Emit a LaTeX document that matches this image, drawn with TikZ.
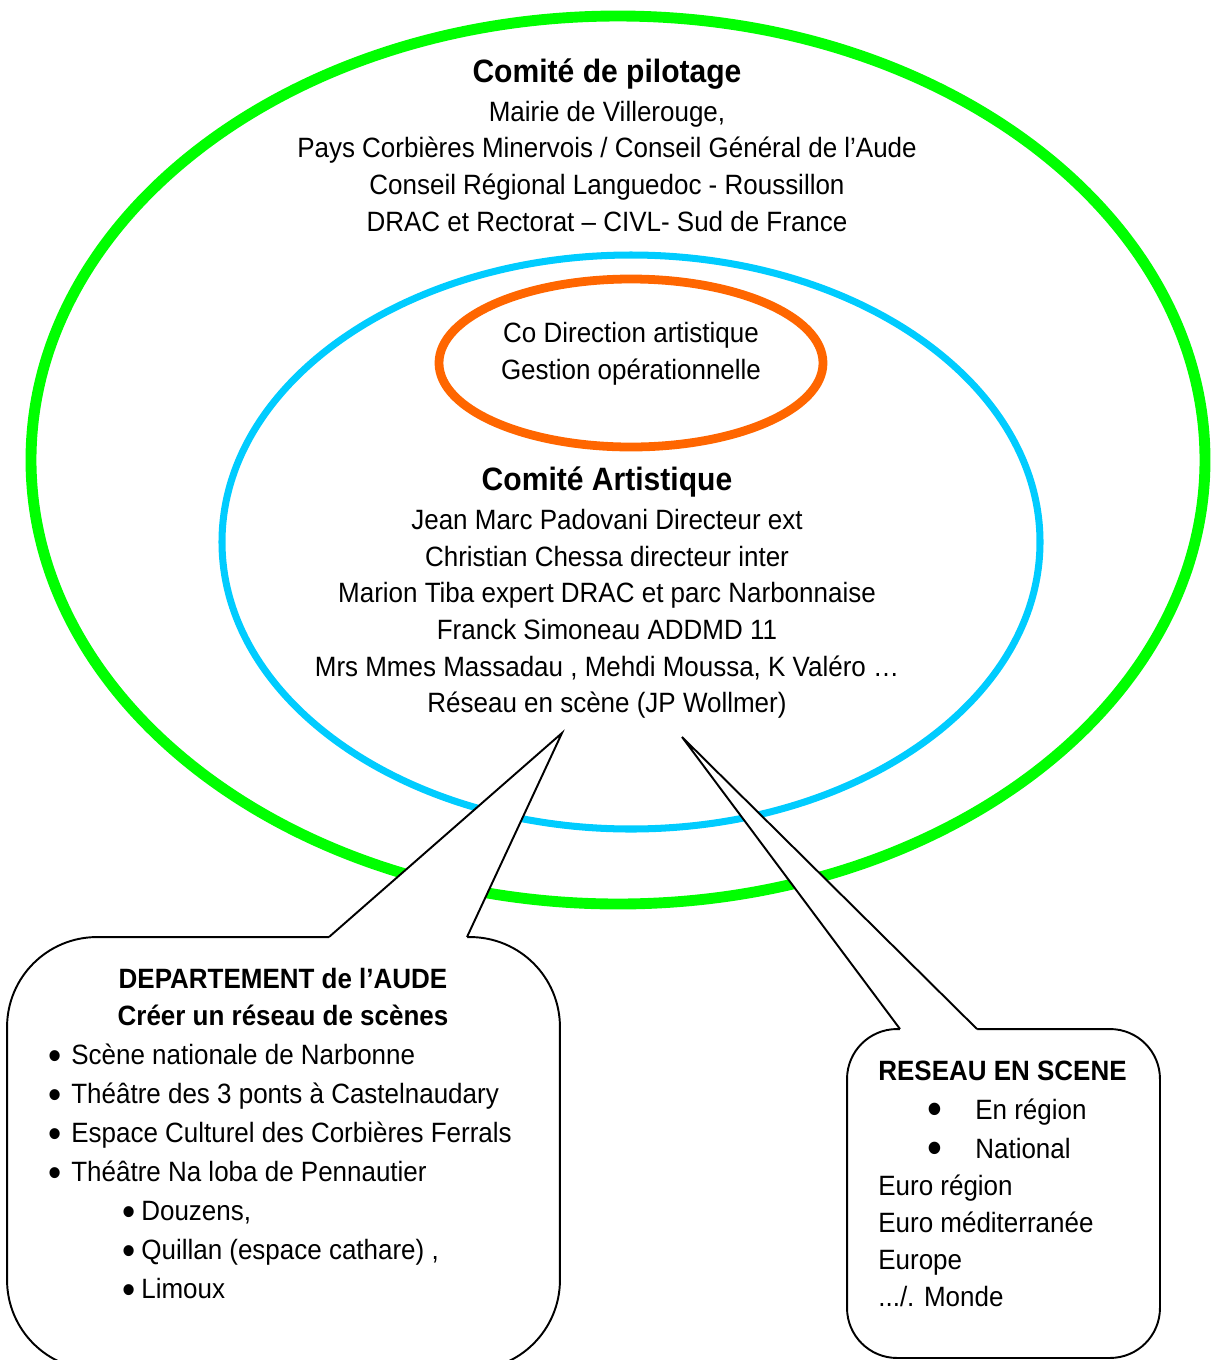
\documentclass[tikz,border=0pt]{standalone}
\usepackage{fontspec}
\setmainfont{Liberation Sans}[FakeStretch=0.93]
\usepackage{tikz}
\usetikzlibrary{positioning}
\usepackage{xcolor}
\definecolor{pilotgreen}{HTML}{00FF00}
\definecolor{artblue}{HTML}{00CCFF}
\definecolor{direcorange}{HTML}{FF6600}
\newcommand{\bodyfont}{\fontsize{15.9}{21}\selectfont}
\newcommand{\headfont}{\fontsize{18.4}{22}\selectfont\bfseries}
\newcommand{\listdot}[2]{\smash{\raisebox{-3pt}{\fontsize{#1}{#1}\selectfont\textbullet}}\hspace{#2}}

\begin{document}
\begin{tikzpicture}[
  x=0.02cm, y=-0.02cm,
  txtline/.style={anchor=base, inner sep=0pt, font=\bodyfont},
  headline/.style={anchor=base, inner sep=0pt, font=\headfont},
  txtitem/.style={anchor=base west, inner sep=0pt, font=\bodyfont},
  bubble/.style={draw, fill=white, line width=1.1pt, inner sep=0pt},
  pointer/.style={line width=1.1pt, line join=miter}
]
  \useasboundingbox (0,0) rectangle (1211,1360);
  \clip (0,0) rectangle (1211,1360);

  % Rings
  \draw[pilotgreen, line width=6.2pt] (618,460) ellipse [x radius=587, y radius=444];
  \draw[artblue, line width=4pt] (631,542) ellipse [x radius=409, y radius=287];
  \draw[direcorange, line width=5pt] (631,363) ellipse [x radius=192, y radius=84];

  % Callouts
  \node[bubble, rounded corners=1.8cm, minimum width=11.06cm, minimum height=8.66cm]
    (aude box) at (283.5,1153.5) {};
  \coordinate (aude tip) at (562,733);
  \fill[white] (329,941) -- (329,937) -- (aude tip) -- (467,937) -- (467,941) -- cycle;
  \draw[pointer] (329,937) -- (aude tip) -- (467,937);

  \node[bubble, rounded corners=1cm, minimum width=6.26cm, minimum height=6.58cm]
    (reseau box) at (1003.5,1193.5) {};
  \coordinate (reseau tip) at (682,737);
  \fill[white] (900,1033) -- (900,1029) -- (reseau tip) -- (977,1029) -- (977,1033) -- cycle;
  \draw[pointer] (900,1029) -- (reseau tip) -- (977,1029);

  % Comite de pilotage
  \node[headline] (pilot title) at (607,82) {Comité de pilotage};
  \node[txtline] (pilot 1) at (607,121) {Mairie de Villerouge,};
  \node[txtline] (pilot 2) at (607,157) {Pays Corbières Minervois / Conseil Général de l’Aude};
  \node[txtline] (pilot 3) at (607,194) {Conseil Régional Languedoc - Roussillon};
  \node[txtline] (pilot 4) at (607,231) {DRAC et Rectorat – CIVL- Sud de France};

  % Direction
  \node[txtline] (direc 1) at (631,342) {Co Direction artistique};
  \node[txtline] (direc 2) at (631,379) {Gestion opérationnelle};

  % Comite artistique
  \node[headline] (art title) at (607,490) {Comité Artistique};
  \node[txtline] (art 1) at (607,529) {Jean Marc Padovani Directeur ext};
  \node[txtline] (art 2) at (607,566) {Christian Chessa directeur inter};
  \node[txtline] (art 3) at (607,602) {Marion Tiba expert DRAC et parc Narbonnaise};
  \node[txtline] (art 4) at (607,639) {Franck Simoneau ADDMD 11};
  \node[txtline] (art 5) at (607,676) {Mrs Mmes Massadau , Mehdi Moussa, K Valéro …};
  \node[txtline] (art 6) at (607,712) {Réseau en scène (JP Wollmer)};

  % Departement de l'Aude
  \node[headline, font=\bodyfont\bfseries] (aude title) at (283,988) {DEPARTEMENT de l’AUDE};
  \node[headline, font=\bodyfont\bfseries] (aude sub) at (283,1025) {Créer un réseau de scènes};
  \node[txtitem] (aude 1) at (71,1064) {\llap{\listdot{23}{5.5pt}}Scène nationale de Narbonne};
  \node[txtitem] (aude 2) at (71,1103) {\llap{\listdot{23}{5.5pt}}Théâtre des 3 ponts à Castelnaudary};
  \node[txtitem] (aude 3) at (71,1142) {\llap{\listdot{23}{5.5pt}}Espace Culturel des Corbières Ferrals};
  \node[txtitem] (aude 4) at (71,1181) {\llap{\listdot{23}{5.5pt}}Théâtre Na loba de Pennautier};
  \node[txtitem] (aude 5) at (141,1220) {\llap{\listdot{23}{3pt}}Douzens,};
  \node[txtitem] (aude 6) at (141,1259) {\llap{\listdot{23}{3pt}}Quillan (espace cathare) ,};
  \node[txtitem] (aude 7) at (141,1298) {\llap{\listdot{23}{3pt}}Limoux};

  % Reseau en scene
  \node[txtitem, font=\bodyfont\bfseries] (reseau title) at (878,1080) {RESEAU EN SCENE};
  \node[txtitem] (reseau 1) at (975,1119) {\llap{\listdot{26}{19pt}}En région};
  \node[txtitem] (reseau 2) at (975,1158) {\llap{\listdot{26}{19pt}}National};
  \node[txtitem] (reseau 3) at (878,1195) {Euro région};
  \node[txtitem] (reseau 4) at (878,1232) {Euro méditerranée};
  \node[txtitem] (reseau 5) at (878,1269) {Europe};
  \node[txtitem] (reseau 6) at (878,1306) {.../. Monde};
\end{tikzpicture}
\end{document}
